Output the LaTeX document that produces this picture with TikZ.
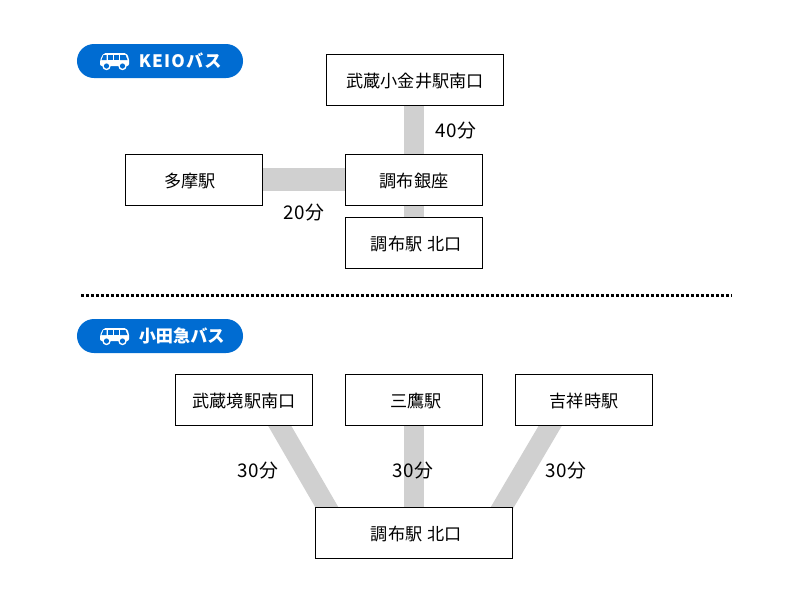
\documentclass[tikz,border=0pt]{standalone}
\usepackage{fontspec}
\setmainfont{Noto Sans CJK JP}
\usetikzlibrary{backgrounds,calc}
\definecolor{badgeblue}{RGB}{0,108,210}
\definecolor{barcolor}{RGB}{208,208,208}
\tikzset{
  stationbox/.style={draw=black,line width=0.025cm,fill=white,minimum width=3.425cm,minimum height=1.275cm,inner sep=0pt,text height=12.5pt,text depth=1.5pt,font=\fontsize{12.2pt}{14pt}\selectfont},
  timelabel/.style={inner sep=0pt,text height=12.5pt,text depth=1.5pt,font=\fontsize{13.4pt}{15pt}\selectfont\addfontfeatures{LetterSpace=5}},
  busbar/.style={draw=barcolor,line width=0.5cm},
  badge/.style={fill=badgeblue,rounded corners=0.425cm,minimum width=4.15cm,minimum height=0.85cm,inner sep=0pt},
  badgetext/.style={text=white,inner sep=0pt,anchor=west,font=\fontsize{12.2pt}{14pt}\selectfont\bfseries},
  busicon/.pic={
    \fill[white,rounded corners=0.05cm] (-14.5,5) -- (-14.5,-1) -- (-11,-8) -- (12,-8) -- (14.5,-3) -- (14.5,5) -- cycle;
    \fill[badgeblue] (-11,-6) -- (-8,-6) -- (-8,-1) -- (-13,-1) -- cycle;
    \fill[badgeblue] (-6.5,-6) rectangle (-2,-1);
    \fill[badgeblue] (-0.5,-6) rectangle (4,-1);
    \fill[badgeblue] (5.5,-6) -- (11,-6) -- (13,-1) -- (5.5,-1) -- cycle;
    \foreach \wheel in {-8,8} {
      \fill[white] (\wheel,5) circle (0.105cm);
      \fill[badgeblue] (\wheel,5) circle (0.065cm);
    }
  }
}
\begin{document}
\begin{tikzpicture}[x=0.025cm,y=-0.025cm]
\useasboundingbox (0,0) rectangle (800,600);
\node[badge] (keiobadge) at (160,61) {};
\pic at (114.5,61) {busicon};
\node[badgetext] (keiotext) at (138.5,61) {\addfontfeatures{LetterSpace=7}KEIOバス};
\node[stationbox,minimum width=4.4cm] (koganei) at (415,80) {武蔵小金井駅南口};
\node[stationbox] (tama) at (194,180) {多摩駅\hspace{6pt}\null};
\node[stationbox] (ginza) at (414,180) {調布銀座};
\node[stationbox] (kitaA) at (414,243) {\hspace{3pt}調布駅 \hspace{0.05em}北口};
\node[timelabel] (fortymin) at (456,130) {40分};
\node[timelabel] (twentymin) at (304,212) {20分};
\coordinate (dotstart) at (81,295);
\coordinate (dotend) at (732,295);
\draw[line width=0.075cm,dash pattern=on 0.075cm off 0.05cm] (dotstart) -- (dotend);
\node[badge] (odakyubadge) at (160,336) {};
\pic at (114.5,336) {busicon};
\node[badgetext] (odakyutext) at (138.5,336) {小田急バス};
\node[stationbox] (sakai) at (244,400) {武蔵境駅南口};
\node[stationbox] (mitaka) at (414,400) {\hspace{3pt}三鷹駅};
\node[stationbox] (kichijoji) at (584,400) {吉祥時駅};
\node[stationbox,minimum width=4.925cm] (kitaB) at (414,533) {\hspace{3pt}調布駅 \hspace{0.05em}北口};
\node[timelabel] (thirtyA) at (258,470) {30分};
\node[timelabel] (thirtyB) at (413,470) {30分};
\node[timelabel] (thirtyC) at (566,470) {30分};
\begin{scope}[on background layer]
\draw[busbar] (koganei.south -| ginza) -- (ginza);
\draw[busbar,line width=0.56cm] ($(tama)+(0,-0.5)$) -- ($(ginza)+(0,-0.5)$);
\draw[busbar] (ginza) -- (kitaA);
\draw[busbar] (mitaka) -- (kitaB.north);
\draw[busbar] ($(sakai.south)+(30,-10)$) -- ($(kitaB.north)+(-81.5,10)$);
\draw[busbar] ($(kichijoji.south)+(-28,-10)$) -- ($(kitaB.north)+(82.5,10)$);
\end{scope}
\end{tikzpicture}
\end{document}
